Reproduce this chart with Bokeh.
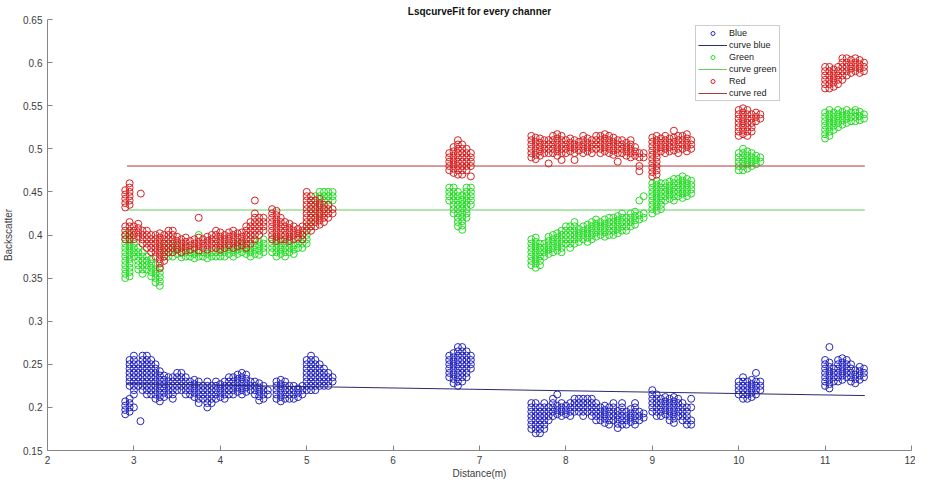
from bokeh.plotting import figure
from bokeh.models import FixedTicker, Legend, LegendItem
from bokeh.embed import file_html
from bokeh.resources import INLINE

# ---------------- data ----------------
x_ticks = [2, 3, 4, 5, 6, 7, 8, 9, 10, 11, 12]
y_ticks = [0.15, 0.2, 0.25, 0.3, 0.35, 0.4, 0.45, 0.5, 0.55, 0.6, 0.65]
y_tick_labels = ["0.15", "0.2", "0.25", "0.3", "0.35", "0.4", "0.45", "0.5", "0.55", "0.6", "0.65"]

# fitted curves
curve_x = [2.92, 11.46]
curve_blue = [0.2275, 0.2137]
curve_green = [0.429, 0.429]
curve_red = [0.480, 0.480]

# Blue channel: column distances and the backscatter values measured at each
blue_x = [2.90, 2.95, 3.00, 3.05, 3.076, 3.10, 3.15, 3.20, 3.25, 3.30, 3.35, 3.40, 3.45, 3.50, 3.55,
          3.60, 3.65, 3.70, 3.75, 3.80, 3.85, 3.90, 3.95, 4.00, 4.05, 4.10, 4.15, 4.20, 4.25, 4.30,
          4.35, 4.40, 4.45, 4.50, 4.55, 4.65, 4.70, 4.75, 4.80, 4.85, 4.90, 4.95, 5.00, 5.05, 5.10,
          5.15, 5.20, 5.25, 5.30,
          6.65, 6.70, 6.75, 6.80, 6.85, 6.90,
          7.60, 7.65, 7.70, 7.75, 7.80, 7.85, 7.90, 7.95, 8.00, 8.05, 8.10, 8.15, 8.20, 8.25, 8.30,
          8.35, 8.40, 8.45, 8.50, 8.55, 8.60, 8.65, 8.70, 8.75, 8.80, 8.85, 8.90,
          9.00, 9.05, 9.10, 9.15, 9.20, 9.25, 9.30, 9.35, 9.40, 9.45,
          10.00, 10.05, 10.10, 10.15, 10.20, 10.25,
          11.00, 11.05, 11.10, 11.15, 11.20, 11.25, 11.30, 11.35, 11.40, 11.45]
blue_y = [
    [.192, .197, .202, .207],
    [.195, .200, .205, .210, .225, .230, .235, .240, .245, .250, .255],
    [.200, .215, .220, .225, .230, .235, .240, .245, .250, .255, .260],
    [.225, .230, .235, .240, .245, .250],
    [.184],
    [.220, .225, .230, .235, .240, .245, .250, .255, .260],
    [.215, .220, .225, .230, .235, .240, .245, .250, .255, .260],
    [.215, .220, .225, .230, .235, .240, .245, .250, .255],
    [.210, .215, .220, .225, .230, .235, .240, .245, .250],
    [.207, .212, .217, .222, .227, .232, .237, .242],
    [.212, .217, .222, .227, .232, .237],
    [.215, .220, .225, .230, .235],
    [.210, .215, .220, .225, .230, .235],
    [.220, .225, .230, .235, .240],
    [.220, .225, .230, .235, .240],
    [.215, .220, .225, .230, .235],
    [.215, .220, .225, .230],
    [.212, .217, .222, .227, .232],
    [.205, .210, .215, .220, .225, .230],
    [.210, .215, .220, .225],
    [.200, .205, .210, .215, .220, .225, .230],
    [.205, .210, .215, .220, .225],
    [.210, .215, .220, .225, .230],
    [.212, .217, .222, .227],
    [.210, .215, .220, .225, .230],
    [.215, .220, .225, .230, .235],
    [.215, .220, .225, .230, .235],
    [.218, .223, .228, .233, .238],
    [.215, .220, .225, .230, .235, .240],
    [.218, .223, .228, .233, .238],
    [.220, .225, .230],
    [.215, .220, .225, .230],
    [.208, .213, .218, .223, .228],
    [.210, .215, .220, .225],
    [.215, .220],
    [.210, .215, .220, .225, .230],
    [.207, .212, .217, .222, .227, .232],
    [.210, .215, .220, .225, .230],
    [.210, .215, .220, .225],
    [.210, .215, .220, .225],
    [.212, .217, .222],
    [.215, .220, .225],
    [.220, .225, .230, .235, .240, .245, .250, .255],
    [.220, .225, .230, .235, .240, .245, .250, .255, .260],
    [.220, .225, .230, .235, .240, .245, .250, .255],
    [.225, .230, .235, .240, .245, .250],
    [.225, .230, .235, .240, .245],
    [.225, .230, .235, .240],
    [.230, .235],
    [.235, .240, .245, .250, .255, .260],
    [.228, .233, .238, .243, .248, .253, .258, .263],
    [.225, .230, .235, .240, .245, .250, .255, .260, .265, .270],
    [.230, .235, .240, .245, .250, .255, .260, .265, .270],
    [.235, .240, .245, .250, .255, .260, .265],
    [.245, .250, .255, .260],
    [.175, .180, .185, .190, .195, .200, .205],
    [.170, .175, .180, .185, .190, .195, .200, .205],
    [.170, .175, .180, .185, .190, .195, .200],
    [.175, .180, .185, .190, .195, .200, .205],
    [.185, .190, .195, .200],
    [.190, .195, .200, .205, .210],
    [.192, .197, .202, .215],
    [.190, .195, .200, .205],
    [.192, .197, .202],
    [.190, .195, .200, .205],
    [.195, .200, .205, .210],
    [.195, .200, .205, .210],
    [.190, .195, .200, .205, .210],
    [.195, .200, .205, .210],
    [.190, .195, .200, .205, .210],
    [.185, .190, .195, .200, .205],
    [.185, .190, .195, .200],
    [.182, .187, .192, .197, .202],
    [.180, .185, .190, .195, .200],
    [.185, .190, .195, .200, .205],
    [.176, .181, .186, .191, .196],
    [.180, .185, .190, .195, .200, .205],
    [.180, .185, .190, .195],
    [.183, .188, .193, .198],
    [.180, .185, .190, .195, .200, .205],
    [.185, .190, .195],
    [.188, .193],
    [.195, .200, .205, .210, .215, .220],
    [.190, .195, .200, .205, .210, .215],
    [.190, .195, .200, .205, .210],
    [.192, .197, .202, .207, .212],
    [.185, .190, .195, .200, .205, .210],
    [.182, .187, .192, .197, .202, .207, .212],
    [.190, .195, .200, .205, .210],
    [.185, .190, .195, .200, .205],
    [.180, .185, .190, .195, .200],
    [.180, .185, .200, .210],
    [.215, .220, .225, .230],
    [.210, .215, .220, .225, .230, .235],
    [.210, .215, .220, .225, .230],
    [.212, .217, .222, .227, .232],
    [.215, .220, .225, .230, .240],
    [.220, .225, .230],
    [.225, .230, .235, .240, .245, .250, .255],
    [.222, .227, .232, .237, .242, .247, .252, .270],
    [.230, .235, .240, .245],
    [.230, .235, .240, .245, .250, .255],
    [.232, .237, .242, .247, .252, .257],
    [.235, .240, .245, .250, .255],
    [.230, .235, .240, .245, .250],
    [.228, .233, .238, .243],
    [.232, .237, .242, .247],
    [.235, .240, .245],
]

# Green channel
green_x = [2.90, 2.95, 3.00, 3.05, 3.10, 3.15, 3.20, 3.25, 3.30, 3.35, 3.40, 3.45, 3.50, 3.55,
           3.60, 3.65, 3.70, 3.75, 3.80, 3.85, 3.90, 3.95, 4.00, 4.05, 4.10, 4.15, 4.20, 4.25,
           4.30, 4.35, 4.40, 4.45, 4.50, 4.60, 4.65, 4.70, 4.75, 4.80, 4.85, 4.90, 4.95, 5.00,
           5.05, 5.10, 5.15, 5.20, 5.25, 5.30,
           6.65, 6.70, 6.75, 6.80, 6.85, 6.90,
           7.60, 7.65, 7.70, 7.75, 7.80, 7.85, 7.90, 7.95, 8.00, 8.05, 8.10, 8.15, 8.20, 8.25,
           8.30, 8.35, 8.40, 8.45, 8.50, 8.55, 8.60, 8.65, 8.70, 8.75, 8.80, 8.85, 8.90,
           9.00, 9.05, 9.10, 9.15, 9.20, 9.25, 9.30, 9.35, 9.40, 9.45,
           10.00, 10.05, 10.10, 10.15, 10.20, 10.25,
           11.00, 11.05, 11.10, 11.15, 11.20, 11.25, 11.30, 11.35, 11.40, 11.45]
green_y = [
    [.350, .355, .360, .365, .370, .375, .380, .385, .390, .395, .400],
    [.352, .357, .362, .367, .372, .377, .382, .387, .392, .397, .402],
    [.375, .380, .385, .390],
    [.360, .365, .370, .375, .380, .385],
    [.355, .360, .365, .370, .375, .380],
    [.360, .365, .370, .375],
    [.352, .357, .362, .367, .372],
    [.345, .350, .355, .360, .365],
    [.341, .346, .351, .356, .361],
    [.375, .380, .385, .390],
    [.375, .380, .385, .390],
    [.375, .380, .385, .390],
    [.378, .383, .388],
    [.374, .379],
    [.375, .380, .385],
    [.375, .380],
    [.373, .378, .383],
    [.375, .380, .400],
    [.375, .380],
    [.373, .378],
    [.375, .380],
    [.375, .380, .385],
    [.375, .380, .385],
    [.375, .380, .385],
    [.378, .383, .388],
    [.375, .380, .385],
    [.378, .383, .388],
    [.380, .385, .390],
    [.378, .383, .388],
    [.375, .380, .385],
    [.378, .383, .388, .393],
    [.377, .382, .387, .392],
    [.380, .385, .390, .395],
    [.380, .385, .390, .395],
    [.375, .380, .385, .390, .395],
    [.378, .383, .388, .393],
    [.375, .380, .385, .390],
    [.380, .385, .390, .395],
    [.378, .383, .388],
    [.385, .390, .395],
    [.385, .390, .395, .400],
    [.390, .395, .400, .405, .410],
    [.410, .420, .430, .440],
    [.420, .430, .440, .445],
    [.425, .435, .445, .450],
    [.430, .440, .445, .450],
    [.435, .440, .445, .450],
    [.440, .445, .450],
    [.440, .445, .450, .455],
    [.425, .430, .435, .440, .445, .450, .455],
    [.410, .415, .420, .425, .430, .435, .440, .445, .450],
    [.406, .411, .416, .421, .426, .431, .436, .441, .446],
    [.420, .425, .430, .435, .440, .445, .450, .455],
    [.435, .440, .445, .450, .455],
    [.365, .370, .375, .380, .385, .390, .395],
    [.362, .367, .372, .377, .382, .387, .392, .397],
    [.365, .370, .375, .380, .385, .390],
    [.375, .380, .385, .390],
    [.378, .383, .388, .393, .398],
    [.380, .385, .390, .395, .400],
    [.382, .387, .392, .397, .402],
    [.380, .385, .390, .395, .400, .405],
    [.390, .395, .400, .405, .410],
    [.385, .390, .395, .400, .405, .410],
    [.390, .395, .400, .405, .410, .415],
    [.392, .397, .402, .407],
    [.395, .400, .405, .410],
    [.392, .397, .402, .407, .412],
    [.395, .400, .405, .410, .415],
    [.398, .403, .408, .413, .418],
    [.400, .405, .410, .415],
    [.398, .403, .408, .413, .418],
    [.400, .405, .410, .415, .420],
    [.400, .405, .410, .415, .420],
    [.402, .407, .412, .417, .422],
    [.405, .410, .415, .420, .425],
    [.405, .410, .415, .420],
    [.410, .415, .420, .425],
    [.412, .417, .422, .427],
    [.418, .423, .440],
    [.420, .425, .445],
    [.425, .430, .435, .440, .445, .450, .455, .460],
    [.428, .433, .438, .443, .448, .453, .458, .463],
    [.430, .435, .440, .445, .450, .455, .460],
    [.440, .445, .450, .455, .460],
    [.442, .447, .452, .457, .462],
    [.440, .445, .450, .455, .460, .465],
    [.445, .450, .455, .460, .465],
    [.443, .448, .453, .458, .463, .468],
    [.445, .450, .455, .460, .465],
    [.448, .453, .458, .463],
    [.475, .480, .485, .490, .495],
    [.475, .480, .485, .490, .495, .500],
    [.477, .482, .487, .492, .497],
    [.480, .485, .490, .495],
    [.482, .487, .492],
    [.485, .490],
    [.512, .517, .522, .527, .532, .537, .542],
    [.515, .520, .525, .530, .535, .540, .545],
    [.522, .527, .532, .537, .542],
    [.525, .530, .535, .540, .545],
    [.528, .533, .538, .543],
    [.530, .535, .540, .545],
    [.532, .537, .542],
    [.532, .537, .542, .545],
    [.533, .538, .543],
    [.535, .540],
]

# Red channel
red_x = [2.90, 2.95, 3.00, 3.05, 3.08, 3.10, 3.15, 3.20, 3.25, 3.30, 3.35, 3.40, 3.45, 3.50, 3.55,
         3.60, 3.65, 3.70, 3.75, 3.80, 3.85, 3.90, 3.95, 4.00, 4.05, 4.10, 4.15, 4.20, 4.25,
         4.30, 4.35, 4.40, 4.45, 4.50, 4.60, 4.65, 4.70, 4.75, 4.80, 4.85, 4.90, 4.95, 5.00,
         5.05, 5.10, 5.15, 5.20, 5.25, 5.30,
         6.65, 6.70, 6.75, 6.80, 6.85, 6.90,
         7.60, 7.65, 7.70, 7.75, 7.80, 7.85, 7.90, 7.95, 8.00, 8.05, 8.10, 8.15, 8.20, 8.25,
         8.30, 8.35, 8.40, 8.45, 8.50, 8.55, 8.60, 8.65, 8.70, 8.75, 8.80, 8.85, 8.90,
         9.00, 9.05, 9.10, 9.15, 9.20, 9.25, 9.30, 9.35, 9.40, 9.45,
         10.00, 10.05, 10.10, 10.15, 10.20, 10.25,
         11.00, 11.05, 11.10, 11.15, 11.20, 11.25, 11.30, 11.35, 11.40, 11.45]
red_y = [
    [.395, .400, .405, .410, .432, .437, .442, .447, .452],
    [.395, .400, .405, .410, .415, .435, .440, .445, .450, .455, .460],
    [.395, .400, .405, .410],
    [.398, .403, .408, .413],
    [.448],
    [.390, .395, .400, .405],
    [.385, .390, .395, .400, .405],
    [.380, .385, .390, .395, .400],
    [.375, .380, .385, .390, .395, .400],
    [.362, .367, .372, .377, .382, .387, .392, .397, .402],
    [.370, .375, .380, .385, .390, .395, .400],
    [.380, .385, .390, .395, .400, .405],
    [.380, .385, .390, .395, .400, .405],
    [.383, .388, .393, .398],
    [.380, .385, .390, .395],
    [.382, .387, .392, .397],
    [.383, .388, .393],
    [.385, .390, .395],
    [.382, .387, .392, .397, .420],
    [.385, .390, .395],
    [.383, .388, .393, .398],
    [.385, .390, .395, .400],
    [.385, .390, .395, .400, .405],
    [.383, .388, .393, .398, .403],
    [.385, .390, .395, .400],
    [.388, .393, .398, .403],
    [.385, .390, .395, .400, .405],
    [.387, .392, .397, .402],
    [.388, .393, .398, .403],
    [.385, .390, .395, .400, .405, .410],
    [.390, .395, .400, .405, .410, .415],
    [.395, .400, .405, .410, .415, .420, .425, .440],
    [.400, .405, .410, .415, .420],
    [.405, .410, .415, .420],
    [.395, .400, .405, .410, .415, .420, .425, .430],
    [.393, .398, .403, .408, .413, .418, .423, .428],
    [.395, .400, .405, .410, .415, .420],
    [.395, .400, .405, .410, .415],
    [.393, .398, .403, .408, .413],
    [.395, .400, .405, .410],
    [.397, .402, .407],
    [.395, .400, .405, .410],
    [.405, .410, .415, .420, .425, .430, .435, .440, .445, .450],
    [.405, .410, .415, .420, .425, .430, .435, .440, .445],
    [.410, .415, .420, .425, .430, .435, .440],
    [.412, .417, .422, .427, .432, .437, .442],
    [.415, .420, .425, .430, .435],
    [.420, .425, .430, .435],
    [.425, .430],
    [.475, .480, .485, .490, .495],
    [.472, .477, .482, .487, .492, .497, .502],
    [.470, .475, .480, .485, .490, .495, .500, .505, .510],
    [.470, .475, .480, .485, .490, .495, .500, .505],
    [.475, .480, .485, .490, .495, .500],
    [.468, .480, .485, .490, .495],
    [.490, .495, .500, .505, .510, .515],
    [.488, .493, .498, .503, .508, .513],
    [.492, .497, .502, .507, .512],
    [.495, .500, .505, .510],
    [.483, .495, .500, .505, .510],
    [.495, .500, .505, .510, .515],
    [.492, .497, .502, .507, .512, .517],
    [.487, .495, .500, .505, .510, .515],
    [.495, .500, .505, .510],
    [.497, .502, .507, .512],
    [.487, .495, .500, .505, .510],
    [.498, .503, .508],
    [.495, .500, .505, .510, .515],
    [.497, .502, .507, .512],
    [.495, .500, .505, .510],
    [.500, .505, .510, .515],
    [.495, .500, .505, .510, .515],
    [.497, .502, .507, .512, .517],
    [.495, .500, .505, .510, .515],
    [.493, .498, .503, .508, .513],
    [.485, .495, .500, .505, .510],
    [.495, .500, .505, .510],
    [.492, .497, .502, .507],
    [.490, .495, .500, .505, .510],
    [.492, .497, .502],
    [.474, .480, .490, .495],
    [.490, .495],
    [.468, .473, .478, .483, .488, .493, .498, .503, .508, .513],
    [.470, .475, .480, .485, .490, .495, .500, .505, .510, .515],
    [.497, .502, .507, .512],
    [.495, .500, .505, .510, .515],
    [.497, .502, .507, .512],
    [.498, .503, .508, .513, .521],
    [.495, .500, .505, .510, .515],
    [.500, .505, .510, .515],
    [.497, .502, .507, .512, .517],
    [.500, .505, .510],
    [.515, .520, .525, .530, .535, .540, .545],
    [.517, .522, .527, .532, .537, .542, .547],
    [.515, .520, .525, .530, .535, .540, .545],
    [.520, .525, .530, .535, .540],
    [.532, .537, .542],
    [.535, .540],
    [.570, .575, .580, .585, .590, .595],
    [.570, .575, .580, .585, .590, .595],
    [.572, .577, .582, .587, .592],
    [.575, .580, .585, .590, .595],
    [.580, .585, .590, .595, .600, .605],
    [.585, .590, .595, .600, .605],
    [.588, .593, .598, .603],
    [.590, .595, .600, .605],
    [.588, .593, .598, .603],
    [.590, .595, .600],
]


def flatten(cols_x, cols_y):
    xs, ys = [], []
    for cx, cy in zip(cols_x, cols_y):
        for v in cy:
            xs.append(cx)
            ys.append(v)
    return xs, ys


bx, by = flatten(blue_x, blue_y)
gx, gy = flatten(green_x, green_y)
rx, ry = flatten(red_x, red_y)

# ---------------- figure ----------------
FONT = "Liberation Sans"
AXIS_C = "#858585"
TEXT_C = "#3c3c3c"
W, H = 915, 481

p = figure(width=W, height=H, x_range=(2, 12), y_range=(0.15, 0.65),
           output_backend="svg", toolbar_location=None,
           min_border_left=0, min_border_right=4, min_border_top=0, min_border_bottom=0)
p.outline_line_color = None
p.grid.visible = False
p.background_fill_color = "white"
p.border_fill_color = "white"

p.title.text = "LsqcurveFit for every channer"
p.title.align = "center"
p.title.text_font = FONT
p.title.text_font_size = "10px"
p.title.text_font_style = "bold"
p.title.text_color = "#111111"
p.title.standoff = 6

p.xaxis.ticker = FixedTicker(ticks=x_ticks)
p.yaxis.ticker = FixedTicker(ticks=y_ticks)
p.yaxis.major_label_overrides = {t: s for t, s in zip(y_ticks, y_tick_labels)}
for ax in (p.xaxis[0], p.yaxis[0]):
    ax.axis_line_color = AXIS_C
    ax.major_tick_line_color = AXIS_C
    ax.minor_tick_line_color = None
    ax.major_tick_in = 5
    ax.major_tick_out = 0
    ax.major_label_text_font = FONT
    ax.major_label_text_font_size = "10px"
    ax.major_label_text_color = TEXT_C
    ax.axis_label_text_font = FONT
    ax.axis_label_text_font_size = "10px"
    ax.axis_label_text_font_style = "normal"
    ax.axis_label_text_color = TEXT_C
p.xaxis.axis_label = "Distance(m)"
p.yaxis.axis_label = "Backscatter"
p.xaxis.major_label_standoff = 5
p.xaxis.axis_label_standoff = 1
p.yaxis.major_label_standoff = 5
p.yaxis.axis_label_standoff = 6

MS = 7
r_blue = p.scatter(bx, by, marker="circle", size=MS, fill_color=None, line_color="#2424c0", line_width=1)
l_blue = p.line(curve_x, curve_blue, line_color="#2a2a70", line_width=1)
r_green = p.scatter(gx, gy, marker="circle", size=MS, fill_color=None, line_color="#22dd22", line_width=1)
l_green = p.line(curve_x, curve_green, line_color="#5fcf5f", line_width=1)
r_red = p.scatter(rx, ry, marker="circle", size=MS, fill_color=None, line_color="#d82020", line_width=1)
l_red = p.line(curve_x, curve_red, line_color="#b03a3a", line_width=1)

frame_h = H - 12 - 38   # approximate plot-frame height (title above, axis below)
legend = Legend(items=[
    LegendItem(label="Blue", renderers=[r_blue]),
    LegendItem(label="curve blue", renderers=[l_blue]),
    LegendItem(label="Green", renderers=[r_green]),
    LegendItem(label="curve green", renderers=[l_green]),
    LegendItem(label="Red", renderers=[r_red]),
    LegendItem(label="curve red", renderers=[l_red]),
], location=(648, frame_h - 6 - 76))
legend.label_text_font = FONT
legend.label_text_font_size = "9px"
legend.label_text_color = "#222222"
legend.glyph_width = 29
legend.glyph_height = 10
legend.label_height = 10
legend.label_standoff = 2
legend.spacing = 2
legend.padding = 2
legend.margin = 0
legend.border_line_color = "#999999"
legend.border_line_width = 1
legend.background_fill_color = "white"
legend.background_fill_alpha = 1
p.add_layout(legend)

open("out.html", "w").write(file_html(p, INLINE))
